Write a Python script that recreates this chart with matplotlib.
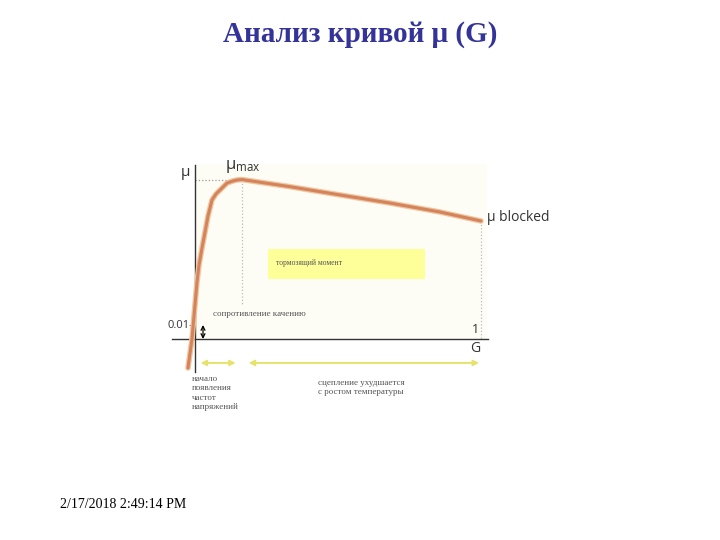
import matplotlib
matplotlib.use('Agg')
from matplotlib import pyplot as plt
from matplotlib.patches import Rectangle

# curve mu(G) (schematic units)
g_vals = [-0.0245, -0.0105, 0.007, 0.014, 0.0245, 0.035, 0.0455, 0.0594, 0.0734, 0.0874, 0.112,
          0.133, 0.147, 0.164, 0.332, 0.507, 0.682, 0.857, 1.0]
mu_vals = [-0.0207, 0.0, 0.0407, 0.0529, 0.065, 0.0764, 0.0879, 0.0993, 0.1036, 0.1064, 0.1114,
           0.1129, 0.1136, 0.1139, 0.1088, 0.1029, 0.0971, 0.0907, 0.0843]

g_peak = 0.164
mu_max = 0.1139
mu_blocked = 0.0843
mu_tick = 0.01

title = 'Анализ кривой μ (G)'
date_text = '2/17/2018 2:49:14 PM'
box_text = 'тормозящий момент'
resist_text = 'сопротивление качению'
left_text = 'начало\nпоявления\nчастот\nнапряжений'
right_text = 'сцепление ухудшается\nс ростом температуры'

fig = plt.figure(figsize=(7.2, 5.4), dpi=100)
fig.text(0.5, 1 - 35 / 540, title, ha='center', va='center', fontsize=21,
         fontweight='bold', family='Liberation Serif', color='#333399')
fig.text(60 / 720, 1 - 505 / 540, date_text, ha='left', va='center', fontsize=10,
         family='Liberation Serif', color='black')

# axes placed so that G=0 -> x=195px, G=1 -> x=481px, mu=0 -> y=339px
ax = fig.add_axes([160 / 720, 1 - 420 / 540, 400 / 720, 270 / 540])
ax.set_xlim((160 - 195) / 286, (560 - 195) / 286)
ax.set_ylim((339 - 420) / 1400, (339 - 150) / 1400)
ax.axis('off')

sans = 'Open Sans'
serif = 'Liberation Serif'

# faint background of the scanned picture
ax.add_patch(Rectangle((0, 0), 1.02, 0.125, facecolor='#fefdf5', edgecolor='none', zorder=0))
# yellow box
ax.add_patch(Rectangle((0.255, 0.0429), 0.549, 0.0214, facecolor='#ffff99', edgecolor='none', zorder=1))
ax.text(0.283, 0.0545, box_text, fontsize=5.5, family=serif, color='#555555', va='center', zorder=2)

# axes lines
ax.plot([0, 0], [-0.0235, 0.1243], color='#333333', lw=1, zorder=3)
ax.plot([-0.08, 1.024], [0, 0], color='#333333', lw=1, zorder=3)

# dotted guides
ax.plot([0, g_peak], [mu_max, mu_max], color='#999999', lw=0.9, ls=':', zorder=2)
ax.plot([g_peak, g_peak], [mu_max, 0.024], color='#bbbbbb', lw=0.9, ls=':', zorder=2)
ax.plot([1.0, 1.0], [mu_blocked, 0], color='#bbbbbb', lw=0.9, ls=':', zorder=2)

# the curve
ax.plot(g_vals, mu_vals, color='#f0c4a0', lw=4, solid_capstyle='round', solid_joinstyle='round', zorder=4)
ax.plot(g_vals, mu_vals, color='#d4845a', lw=2.2, solid_capstyle='round', solid_joinstyle='round', zorder=5)

# labels
ax.text(-0.035, 0.119, 'μ', fontsize=11, family=sans, color='#333333', ha='center', va='center')
ax.text(0.105, 0.1235, r'$\mathregular{μ_{max}}$', fontsize=12, family=sans, color='#333333',
        ha='left', va='center')
ax.text(1.022, 0.0865, 'μ blocked', fontsize=10, family=sans, color='#333333', ha='left', va='center')
ax.text(-0.005, mu_tick, '0.01-', fontsize=8, family=sans, color='#333333', ha='right', va='center')
ax.text(0.98, 0.007, '1', fontsize=9, family=sans, color='#333333', ha='center', va='center')
ax.text(0.98, -0.0065, 'G', fontsize=10, family=sans, color='#333333', ha='center', va='center')
ax.text(0.063, 0.018, resist_text, fontsize=6.5, family=serif, color='#555555', ha='left', va='center')

# small black double arrow for rolling resistance
ax.annotate('', xy=(0.028, 0), xytext=(0.028, mu_tick),
            arrowprops=dict(arrowstyle='<->', color='black', lw=0.9, mutation_scale=7,
                            shrinkA=0, shrinkB=0))

# yellow range arrows
ax.annotate('', xy=(0.01, -0.0171), xytext=(0.152, -0.0171),
            arrowprops=dict(arrowstyle='<|-|>', color='#e5e36a', lw=1.4, mutation_scale=8))
ax.annotate('', xy=(0.178, -0.0171), xytext=(1.003, -0.0171),
            arrowprops=dict(arrowstyle='<|-|>', color='#e5e36a', lw=1.4, mutation_scale=8))

ax.text(-0.01, -0.0255, left_text, fontsize=6.5, family=serif, color='#555555', ha='left',
        va='top', linespacing=1.25)
ax.text(0.43, -0.0285, right_text, fontsize=6.5, family=serif, color='#555555', ha='left',
        va='top', linespacing=1.25)

fig.savefig('out.png', dpi=100, facecolor='white')
